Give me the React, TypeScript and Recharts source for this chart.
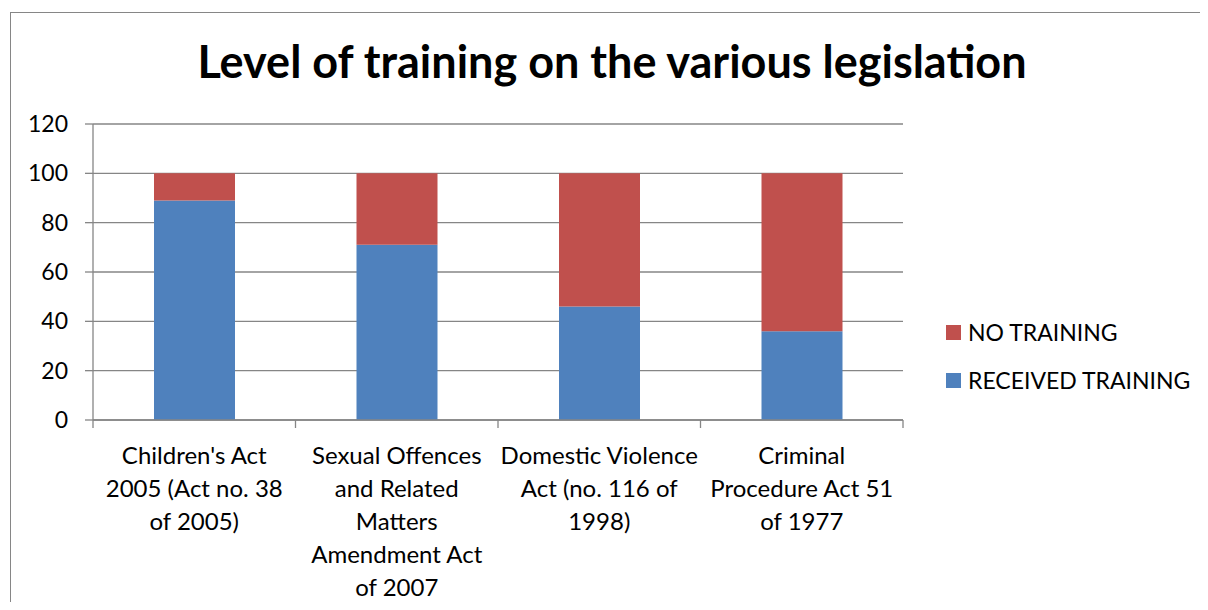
import React from 'react';
import { BarChart, Bar, XAxis, YAxis, CartesianGrid } from 'recharts';

const categories = [
  "Children's Act 2005 (Act no. 38 of 2005)",
  'Sexual Offences and Related Matters Amendment Act of 2007',
  'Domestic Violence Act (no. 116 of 1998)',
  'Criminal Procedure Act 51 of 1977',
];
const categoryLines = [
  ["Children's Act", '2005 (Act no. 38', 'of 2005)'],
  ['Sexual Offences', 'and Related', 'Matters', 'Amendment Act', 'of 2007'],
  ['Domestic Violence', 'Act (no. 116 of', '1998)'],
  ['Criminal', 'Procedure Act 51', 'of 1977'],
];
const receivedTraining = [89, 71, 46, 36];
const noTraining = [11, 29, 54, 64];
const yTicks = [0, 20, 40, 60, 80, 100, 120];
const seriesNames = { received: 'RECEIVED TRAINING', none: 'NO TRAINING' };

const data = categories.map((c, i) => ({
  name: c,
  received: receivedTraining[i],
  none: noTraining[i],
}));

const W = 1200;
const H = 594;
const MARGIN = { top: 116, right: 305, bottom: 0, left: 0 };
const Y_AXIS_W = 85;
const X_AXIS_H = 182;
const BAND = (W - MARGIN.left - MARGIN.right - Y_AXIS_W) / categories.length;
const GRAY = '#868686';
const BLUE = '#4F81BD';
const RED = '#C0504D';
const FONT = 'Lato, "Open Sans", sans-serif';

const XTick = (props: any) => {
  const { x, y, index, payload } = props;
  const lines = categoryLines[index] ?? [String(payload.value)];
  const half = BAND / 2;
  return (
    <g>
      <line x1={x - half} x2={x - half} y1={y} y2={y + 8} stroke={GRAY} strokeWidth={1.3} />
      {index === categories.length - 1 && (
        <line x1={x + half} x2={x + half} y1={y} y2={y + 8} stroke={GRAY} strokeWidth={1.3} />
      )}
      <text x={x} y={y + 44} textAnchor="middle" fontFamily={FONT} fontSize={24} fill="#000">
        {lines.map((l, i) => (
          <tspan key={i} x={x} dy={i === 0 ? 0 : 33}>
            {l}
          </tspan>
        ))}
      </text>
    </g>
  );
};

const legendItems = [
  { label: seriesNames.none, color: RED },
  { label: seriesNames.received, color: BLUE },
];

export default function App() {
  return (
    <div style={{ position: 'relative', width: W, height: H, overflow: 'hidden', background: '#fff' }}>
      <div
        style={{
          position: 'absolute',
          left: 2,
          top: 4,
          width: 1400,
          height: 900,
          border: `1.5px solid ${GRAY}`,
          boxSizing: 'border-box',
        }}
      />
      <div
        style={{
          position: 'absolute',
          left: 0,
          top: 30,
          width: 1208,
          textAlign: 'center',
          fontFamily: FONT,
          fontWeight: 700,
          fontSize: 45,
          lineHeight: '46px',
          color: '#000',
          whiteSpace: 'nowrap',
        }}
      >
        Level of training on the various legislation
      </div>
      <div style={{ position: 'absolute', left: 0, top: 0 }}>
        <BarChart width={W} height={H} data={data} margin={MARGIN}>
          <CartesianGrid vertical={false} stroke={GRAY} strokeWidth={1.3} />
          <XAxis
            dataKey="name"
            interval={0}
            height={X_AXIS_H}
            tickLine={false}
            tickSize={0}
            tickMargin={0}
            axisLine={{ stroke: GRAY, strokeWidth: 1.3 }}
            tick={<XTick />}
          />
          <YAxis
            width={Y_AXIS_W}
            domain={[0, 120]}
            ticks={yTicks}
            interval={0}
            tickSize={8}
            tickMargin={17}
            axisLine={{ stroke: GRAY, strokeWidth: 1.3 }}
            tickLine={{ stroke: GRAY, strokeWidth: 1.3 }}
            tick={{ fontFamily: FONT, fontSize: 23, fill: '#000' }}
          />
          <Bar dataKey="received" name={seriesNames.received} stackId="a" fill={BLUE} barSize={81} isAnimationActive={false} />
          <Bar dataKey="none" name={seriesNames.none} stackId="a" fill={RED} barSize={81} isAnimationActive={false} />
        </BarChart>
      </div>
      <div
        style={{
          position: 'absolute',
          left: 938,
          top: 300,
          width: 260,
          fontFamily: FONT,
          fontSize: 23,
          color: '#000',
        }}
      >
        {legendItems.map((it) => (
          <div key={it.label} style={{ height: 48, display: 'flex', alignItems: 'center' }}>
            <span style={{ display: 'inline-block', width: 15, height: 15, background: it.color, marginRight: 7 }} />
            <span style={{ whiteSpace: 'nowrap' }}>{it.label}</span>
          </div>
        ))}
      </div>
    </div>
  );
}
